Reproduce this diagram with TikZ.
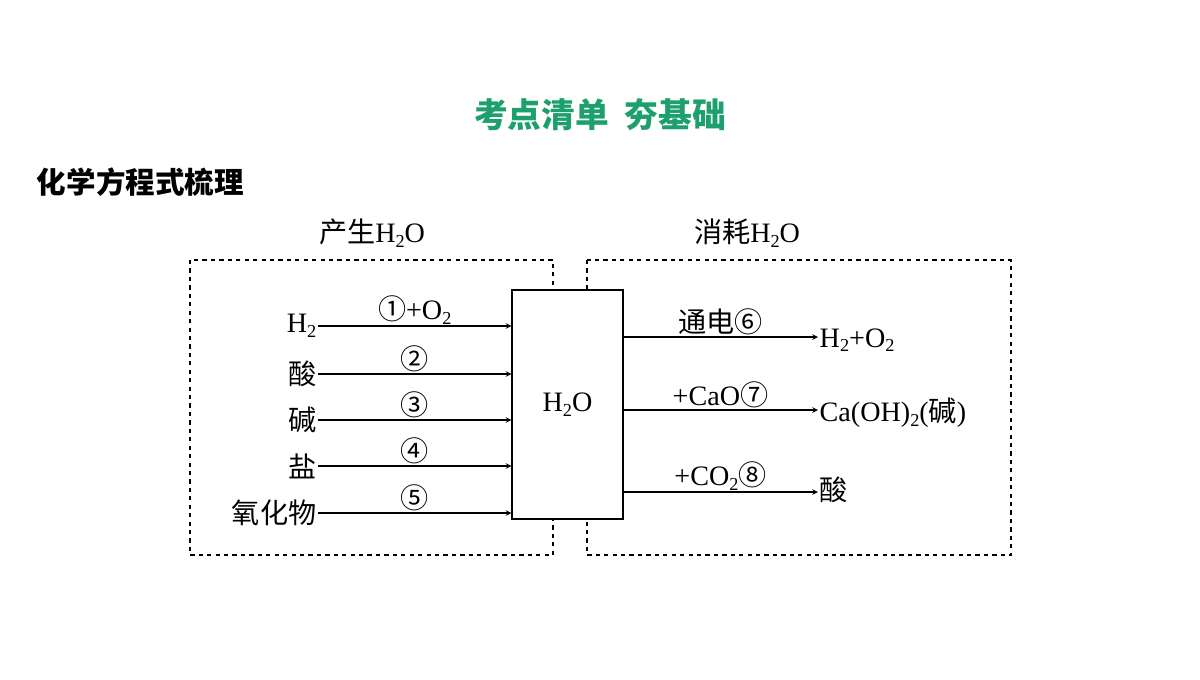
\documentclass[tikz,border=0pt]{standalone}
\usepackage{fontspec}
\setmainfont{Liberation Serif}
\newfontfamily\cjk{Noto Sans CJK SC}
\newcommand{\subs}[1]{\raisebox{-0.35ex}{\fontsize{13}{13}\selectfont #1}}
\definecolor{titlegreen}{RGB}{30,160,110}
\begin{document}
\begin{tikzpicture}[
  x=0.025cm, y=-0.025cm,
  box/.style={draw, dashed, thick},
  lbl/.style={font=\fontsize{20}{22}\selectfont, inner sep=1pt},
  arr/.style={->, thick, >=stealth},
  every node/.style={font=\fontsize{20}{22}\selectfont}
]
\useasboundingbox (0,0) rectangle (1200,679);
% headings
\node[font=\cjk\bfseries\fontsize{24}{26}\selectfont, text=titlegreen] (title) at (600,115) {考点清单\ \ 夯基础};
\node[font=\cjk\bfseries\fontsize{21}{24}\selectfont, anchor=west] (topic) at (32,182) {化学方程式梳理};
% dashed frames
\draw[box] (190,260) rectangle (553,555);
\draw[box] (587,260) rectangle (1011,555);
\node (make) at (372,233) {{\cjk 产生}H\subs{2}O};
\node (use) at (747,233) {{\cjk 消耗}H\subs{2}O};
% central box
\node[draw, thick, fill=white, minimum width=111*0.025cm, minimum height=229*0.025cm] (water) at (567.5,404.5) {H\subs{2}O};
% producing side
\node[lbl, anchor=east] (h2) at (318,326) {H\subs{2}};
\node[lbl, anchor=east] (acid) at (318,374) {\cjk 酸};
\node[lbl, anchor=east] (base) at (318,420) {\cjk 碱};
\node[lbl, anchor=east] (salt) at (318,466) {\cjk 盐};
\node[lbl, anchor=east] (oxide) at (318,513) {\cjk 氧化物};
\foreach \src/\lab in {h2/{{\cjk ①}+O\subs{2}}, acid/{\cjk ②}, base/{\cjk ③}, salt/{\cjk ④}, oxide/{\cjk ⑤}}
  \draw[arr] (\src.east) -- node[above, lbl] {\lab} (\src.east -| water.west);
% consuming side
\coordinate (out1) at (623,337);
\coordinate (out2) at (623,410);
\coordinate (out3) at (623,492);
\node[lbl, anchor=west] (gas) at (818,340) {H\subs{2}+O\subs{2}};
\node[lbl, anchor=west] (lime) at (818,413) {Ca(OH)\subs{2}({\cjk 碱})};
\node[lbl, anchor=west] (acid2) at (818,490) {\cjk 酸};
\draw[arr] (out1) -- node[above, lbl] {{\cjk 通电⑥}} (out1 -| gas.west);
\draw[arr] (out2) -- node[above, lbl] {+CaO{\cjk ⑦}} (out2 -| lime.west);
\draw[arr] (out3) -- node[above, lbl] {+CO\subs{2}{\cjk ⑧}} (out3 -| acid2.west);
\end{tikzpicture}
\end{document}
